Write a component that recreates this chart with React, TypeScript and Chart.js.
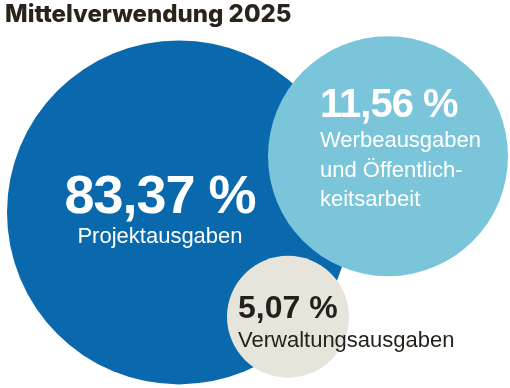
import React, { useEffect, useRef } from "react";
import { Chart, registerables } from "chart.js";

Chart.register(...registerables);

// ---- data ----
const titleText = "Mittelverwendung 2025";
const categories = [
  "Projektausgaben",
  "Werbeausgaben und Öffentlichkeitsarbeit",
  "Verwaltungsausgaben",
];
const shares = [83.37, 11.56, 5.07];
const labelLines = [
  ["Projektausgaben"],
  ["Werbeausgaben", "und Öffentlich-", "keitsarbeit"],
  ["Verwaltungsausgaben"],
];
// bubble centre positions and radii
const bubbleX = [179, 388, 288];
const bubbleY = [213, 157, 317];
const bubbleR = [172, 120, 61];
const bubbleColors = ["#0a69ad", "#7bc5da", "#e7e4dc"];

// ---- label layout (styles, not data) ----
type LabelStyle = {
  align: CanvasTextAlign;
  dx: number;
  pctDy: number;
  pctSize: number;
  nameDy: number;
  nameSize: number;
  lineGap: number;
  color: string;
  spacing: number;
};
const labelStyles: LabelStyle[] = [
  { align: "center", dx: -19, pctDy: 1, pctSize: 54, nameDy: 31, nameSize: 22, lineGap: 29.5, color: "#ffffff", spacing: -1 },
  { align: "left", dx: -68, pctDy: -39, pctSize: 40, nameDy: -9, nameSize: 22, lineGap: 29.5, color: "#ffffff", spacing: -1 },
  { align: "left", dx: -50, pctDy: 1, pctSize: 32, nameDy: 30, nameSize: 22, lineGap: 29.5, color: "#231f1a", spacing: 0 },
];

const fmt = (v: number) =>
  v.toLocaleString("de-DE", { minimumFractionDigits: 2, maximumFractionDigits: 2 }) + " %";

const labelPlugin = {
  id: "bubbleLabels",
  afterDatasetsDraw(chart: any) {
    const ctx: CanvasRenderingContext2D = chart.ctx;
    const meta = chart.getDatasetMeta(0);
    meta.data.forEach((el: any, i: number) => {
      const st = labelStyles[i];
      const x = el.x + st.dx;
      ctx.save();
      ctx.fillStyle = st.color;
      ctx.textAlign = st.align;
      ctx.textBaseline = "alphabetic";
      (ctx as any).letterSpacing = st.spacing + "px";
      ctx.font = `bold ${st.pctSize}px "Liberation Sans", Arial, sans-serif`;
      ctx.fillText(fmt(shares[i]), x, el.y + st.pctDy);
      (ctx as any).letterSpacing = "0px";
      ctx.font = `${st.nameSize}px "Liberation Sans", Arial, sans-serif`;
      labelLines[i].forEach((line, j) => {
        ctx.fillText(line, x, el.y + st.nameDy + j * st.lineGap);
      });
      ctx.restore();
    });
  },
};

export default function App() {
  const ref = useRef<HTMLCanvasElement | null>(null);
  useEffect(() => {
    if (!ref.current) return;
    const chart = new Chart(ref.current, {
      type: "bubble",
      data: {
        labels: categories,
        datasets: [
          {
            label: titleText,
            data: bubbleX.map((x, i) => ({ x, y: bubbleY[i], r: bubbleR[i] })),
            backgroundColor: bubbleColors,
            hoverBackgroundColor: bubbleColors,
            borderWidth: 0,
            hoverBorderWidth: 0,
            hoverRadius: 0,
            clip: false as any,
          },
        ],
      },
      options: {
        responsive: false,
        animation: false,
        devicePixelRatio: 1,
        events: [],
        layout: { padding: { left: 5, right: 0, top: 0, bottom: 0 }, autoPadding: false },
        scales: {
          x: { type: "linear", display: false, min: 5, max: 510 },
          y: { type: "linear", display: false, min: 30, max: 388, reverse: true },
        },
        plugins: {
          legend: { display: false },
          tooltip: { enabled: false },
          title: {
            display: true,
            text: titleText,
            align: "start",
            color: "#2a2319",
            font: { family: "Inter", size: 24, weight: "800" as any },
            padding: { top: 0, bottom: 0 },
          },
        },
      },
      plugins: [labelPlugin],
    });
    return () => chart.destroy();
  }, []);
  return (
    <div style={{ position: "fixed", left: 0, top: 0, width: 510, height: 388, background: "#ffffff" }}>
      <canvas ref={ref} width={510} height={388} />
    </div>
  );
}
